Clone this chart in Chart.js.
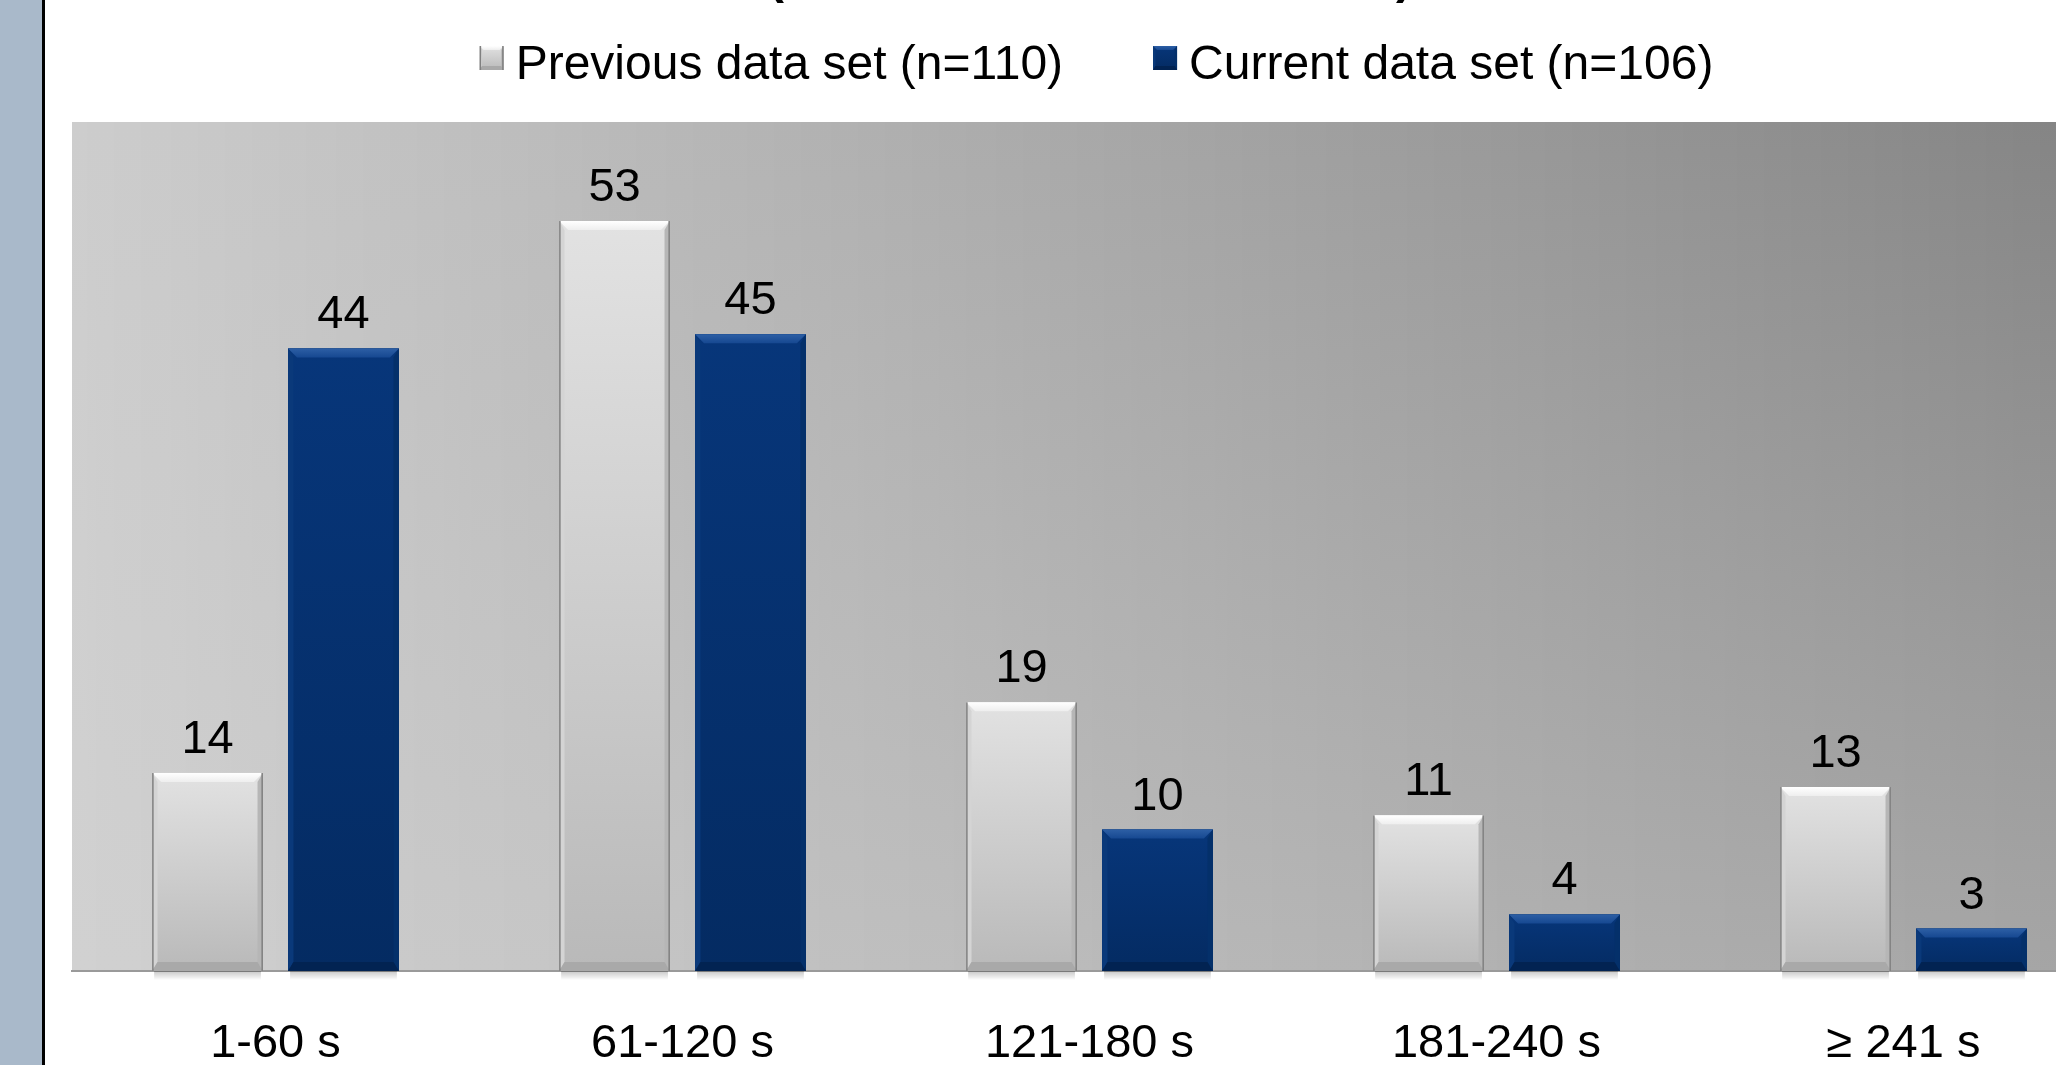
<!DOCTYPE html>
<html><head><meta charset="utf-8">
<script src="https://cdn.jsdelivr.net/npm/chart.js@4"></script>
<style>
html,body{margin:0;padding:0;background:#fff;overflow:hidden;width:2056px;height:1065px}
#wrap{position:absolute;left:0;top:0;width:2107px;height:1065px}
#strip{position:absolute;left:0;top:0;width:42px;height:1065px;background:#a9b9ca;border-right:3px solid #000}
</style></head><body>
<div id="wrap"><canvas id="c" width="2107" height="1065"></canvas></div>
<div id="strip"></div>
<script>
const categories = ['1-60 s', '61-120 s', '121-180 s', '181-240 s', '≥ 241 s'];
const previousValues = [14, 53, 19, 11, 13];
const currentValues = [44, 45, 10, 4, 3];
const seriesNames = ['Previous data set (n=110)', 'Current data set (n=106)'];
const yMin = 0;
const yMax = 60;

const FONT = "'Liberation Sans', Arial, Helvetica, sans-serif";

const palette = [
  {main:['#e2e2e2','#b9b9b9'], top:['#ffffff','#eeeeee'], left:'#d4d4d4', right:'#b6b6b6', bottom:'#a9a9a9', edge:'#808080'},
  {main:['#07367a','#042b62'], top:['#2d5fa5','#164891'], left:'#0a397a', right:'#04306a', bottom:'#022352', edge:null}
];

function lerp(a,b,t){return Math.round(a+(b-a)*t);}

const bgPlugin = {
  id:'bg',
  beforeDraw(chart){
    const {ctx, chartArea:a} = chart;
    ctx.save();
    const w = a.right - a.left;
    for (let x = a.left; x < a.right; x += 3) {
      const t = (x - a.left) / w;
      const top = lerp(205, 131, t), bot = lerp(209, 164, t);
      const g = ctx.createLinearGradient(0, a.top, 0, a.bottom);
      g.addColorStop(0, `rgb(${top},${top},${top})`);
      g.addColorStop(1, `rgb(${bot},${bot},${bot})`);
      ctx.fillStyle = g;
      ctx.fillRect(x, a.top, 3.5, a.bottom - a.top);
    }
    // partially visible title parentheses at the very top
    ctx.fillStyle = '#000';
    ctx.font = `bold 48px ${FONT}`;
    ctx.textAlign = 'center';
    ctx.textBaseline = 'alphabetic';
    ctx.fillText('(', 776, -7);
    ctx.fillText(')', 1404, -7);
    ctx.restore();
  }
};

function drawBevelBar(ctx, left, top, right, bottom, p, b){
  const h = bottom - top;
  const g = ctx.createLinearGradient(0, top, 0, bottom);
  g.addColorStop(0, p.main[0]); g.addColorStop(1, p.main[1]);
  ctx.fillStyle = g;
  ctx.fillRect(left, top, right-left, h);
  const poly = (pts, fill) => {ctx.beginPath(); ctx.moveTo(pts[0][0],pts[0][1]); for (let i=1;i<pts.length;i++) ctx.lineTo(pts[i][0],pts[i][1]); ctx.closePath(); ctx.fillStyle=fill; ctx.fill();};
  const tg = ctx.createLinearGradient(0, top, 0, top+b);
  tg.addColorStop(0, p.top[0]); tg.addColorStop(1, p.top[1]);
  const s = b * 0.6;
  poly([[left,top],[right,top],[right-b,top+b],[left+b,top+b]], tg);
  poly([[left,top],[left+s,top+b],[left+s,bottom-b],[left,bottom]], p.left);
  poly([[right,top],[right-s,top+b],[right-s,bottom-b],[right,bottom]], p.right);
  poly([[left,bottom],[left+s,bottom-b],[right-s,bottom-b],[right,bottom]], p.bottom);
  if (p.edge) {
    ctx.strokeStyle = p.edge; ctx.lineWidth = 1.5;
    ctx.beginPath();
    ctx.moveTo(left+0.75, top); ctx.lineTo(left+0.75, bottom);
    ctx.moveTo(right-0.75, top); ctx.lineTo(right-0.75, bottom);
    ctx.stroke();
  }
}

const barPlugin = {
  id:'bevelBars',
  afterDatasetsDraw(chart){
    const ctx = chart.ctx;
    ctx.save();
    chart.data.datasets.forEach((ds, di) => {
      const meta = chart.getDatasetMeta(di);
      meta.data.forEach((el, i) => {
        const {x, y, base, width} = el.getProps(['x','y','base','width'], true);
        const left = x - width/2, right = x + width/2;
        const sg = ctx.createLinearGradient(0, base, 0, base + 9);
        sg.addColorStop(0, 'rgba(0,0,0,0.22)'); sg.addColorStop(1, 'rgba(0,0,0,0)');
        ctx.fillStyle = sg;
        ctx.fillRect(left + 2, base, width - 4, 9);
        const b = Math.min(9, (base - y) / 3);
        drawBevelBar(ctx, left, y, right, base, palette[di], b);
        ctx.fillStyle = '#000';
        ctx.font = `47px ${FONT}`;
        ctx.textAlign = 'center';
        ctx.textBaseline = 'alphabetic';
        ctx.fillText(String(ds.data[i]), x, y - 20);
      });
    });
    ctx.restore();
  }
};

const legendPlugin = {
  id:'customLegend',
  afterDraw(chart){
    const ctx = chart.ctx, a = chart.chartArea;
    ctx.save();
    ctx.font = `48px ${FONT}`;
    const box = 24, gapText = 12, gapItem = 90;
    const widths = chart.data.datasets.map(d => ctx.measureText(d.label).width);
    const total = widths.reduce((s,w)=>s+w,0) + 2*(box+gapText) + gapItem;
    let x = (a.left + a.right)/2 + 7 - total/2;
    const boxTop = 46, baseline = 79;
    chart.data.datasets.forEach((d, di) => {
      drawBevelBar(ctx, x, boxTop, x + box, boxTop + box, palette[di], 4);
      x += box + gapText;
      ctx.fillStyle = '#000';
      ctx.textAlign = 'left';
      ctx.textBaseline = 'alphabetic';
      ctx.fillText(d.label, x, baseline);
      x += widths[di] + gapItem;
    });
    ctx.restore();
  }
};

new Chart(document.getElementById('c'), {
  type: 'bar',
  data: {
    labels: categories,
    datasets: [
      {label: seriesNames[0], data: previousValues, backgroundColor: '#d2d2d2', borderWidth: 0, barPercentage: 0.815, categoryPercentage: 0.668},
      {label: seriesNames[1], data: currentValues, backgroundColor: '#063473', borderWidth: 0, barPercentage: 0.815, categoryPercentage: 0.668}
    ]
  },
  options: {
    responsive: false,
    devicePixelRatio: 1,
    animation: false,
    layout: {padding: {top: 122, left: 72, right: 0, bottom: 0}},
    plugins: {legend: {display: false}, tooltip: {enabled: false}, title: {display: false}},
    scales: {
      x: {
        grid: {display: false, drawTicks: false},
        border: {display: true, color: '#9a9a9a', width: 2},
        ticks: {color: '#000', font: {family: FONT, size: 47}, padding: 45},
        afterFit(s){ s.height = 94; }
      },
      y: {display: false, min: yMin, max: yMax}
    }
  },
  plugins: [bgPlugin, barPlugin, legendPlugin]
});
</script>
</body></html>
